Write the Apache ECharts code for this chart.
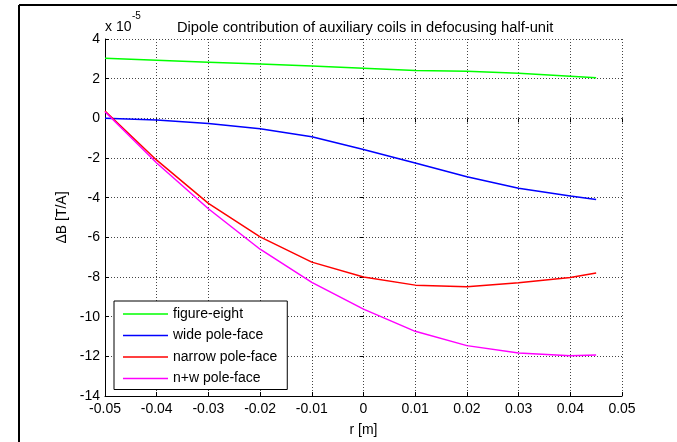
<!DOCTYPE html>
<html>
<head>
<meta charset="utf-8">
<script src="https://cdn.jsdelivr.net/npm/echarts@6/dist/echarts.min.js"></script>
<style>
html,body{margin:0;padding:0;background:#fff;}
#chart{width:677px;height:442px;}
</style>
</head>
<body>
<div id="chart"></div>
<script>
// ---- data (values in units of 1e-5 T/A) ----
const rValues = [-0.05, -0.04, -0.03, -0.02, -0.01, 0, 0.01, 0.02, 0.03, 0.04, 0.045];
const figureEight = [3.03, 2.93, 2.83, 2.74, 2.64, 2.53, 2.41, 2.37, 2.27, 2.12, 2.05];
const widePoleFace = [0.0, -0.08, -0.26, -0.53, -0.93, -1.57, -2.25, -2.95, -3.52, -3.92, -4.09];
const narrowPoleFace = [0.37, -2.11, -4.29, -5.98, -7.25, -8.0, -8.41, -8.49, -8.29, -8.03, -7.8];
const nwPoleFace = [0.33, -2.25, -4.56, -6.6, -8.27, -9.62, -10.74, -11.46, -11.83, -11.97, -11.93];
const seriesNames = ['figure-eight', 'wide pole-face', 'narrow pole-face', 'n+w pole-face'];
const seriesColors = ['#00ff00', '#0000ff', '#ff0000', '#ff00ff'];
const xTicks = [-0.05, -0.04, -0.03, -0.02, -0.01, 0, 0.01, 0.02, 0.03, 0.04, 0.05];
const yTicks = [4, 2, 0, -2, -4, -6, -8, -10, -12, -14];
const titleText = 'Dipole contribution of auxiliary coils in defocusing half-unit';
const xName = 'r [m]';
const yName = '\u0394B [T/A]';

const allValues = [figureEight, widePoleFace, narrowPoleFace, nwPoleFace];
const FONT = 'Liberation Sans, Arial, sans-serif';

const chart = echarts.init(document.getElementById('chart'), null, {renderer: 'canvas'});

const gridLine = {show: true, lineStyle: {color: '#444', type: [1, 2], width: 1}};

function fmtX(v) {
  const r = Math.round(v * 100) / 100;
  if (r === 0) return '0';
  return r.toFixed(2);
}

const option = {
  backgroundColor: '#fff',
  animation: false,
  title: {
    text: titleText,
    left: 172,
    top: 15,
    textStyle: {fontFamily: FONT, fontSize: 14.7, fontWeight: 'normal', color: '#000'}
  },
  grid: {left: 105, right: 55, top: 39, bottom: 45, containLabel: false},
  legend: {
    orient: 'vertical',
    left: 114,
    top: 301,
    data: seriesNames,
    icon: 'rect',
    itemWidth: 45,
    itemHeight: 1.5,
    itemGap: 5.5,
    padding: [5, 10, 3, 9],
    backgroundColor: '#fff',
    borderColor: '#000',
    borderWidth: 1,
    textStyle: {fontFamily: FONT, fontSize: 14, color: '#000', lineHeight: 16}
  },
  xAxis: [{
    type: 'value',
    min: -0.05, max: 0.05, interval: 0.01,
    name: xName,
    nameLocation: 'middle',
    nameGap: 27,
    nameTextStyle: {fontFamily: FONT, fontSize: 14, color: '#000'},
    axisLine: {show: true, onZero: false, lineStyle: {color: '#000', width: 1}},
    axisTick: {show: true, inside: true, length: 4, lineStyle: {color: '#000'}},
    axisLabel: {fontFamily: FONT, fontSize: 14, color: '#000', margin: 6,
      formatter: v => fmtX(v)},
    splitLine: gridLine
  }, {
    type: 'value', position: 'top',
    min: -0.05, max: 0.05, interval: 0.01,
    axisLine: {show: false},
    axisTick: {show: true, inside: true, length: 4, lineStyle: {color: '#000'}},
    axisLabel: {show: false},
    splitLine: {show: false}
  }],
  yAxis: [{
    type: 'value',
    min: -14, max: 4, interval: 2,
    name: yName,
    nameLocation: 'middle',
    nameRotate: 90,
    nameGap: 29,
    nameTextStyle: {fontFamily: FONT, fontSize: 14, color: '#000'},
    axisLine: {show: true, onZero: false, lineStyle: {color: '#000', width: 1}},
    axisTick: {show: true, inside: true, length: 4, lineStyle: {color: '#000'}},
    axisLabel: {fontFamily: FONT, fontSize: 14, color: '#000', margin: 5},
    splitLine: gridLine
  }, {
    type: 'value', position: 'right',
    min: -14, max: 4, interval: 2,
    axisLine: {show: false},
    axisTick: {show: true, inside: true, length: 4, lineStyle: {color: '#000'}},
    axisLabel: {show: false},
    splitLine: {show: false}
  }],
  series: seriesNames.map((name, i) => ({
    name: name,
    type: 'line',
    xAxisIndex: 0,
    yAxisIndex: 0,
    data: rValues.map((r, j) => [r, allValues[i][j]]),
    symbol: 'none',
    showSymbol: false,
    smooth: false,
    color: seriesColors[i],
    lineStyle: {color: seriesColors[i], width: 1.5},
    itemStyle: {color: seriesColors[i]}
  })),
  graphic: [
    {type: 'line', shape: {x1: 19, y1: 5, x2: 677, y2: 5}, style: {stroke: '#000', lineWidth: 2}, silent: true},
    {type: 'line', shape: {x1: 19, y1: 5, x2: 19, y2: 442}, style: {stroke: '#000', lineWidth: 2}, silent: true},
    {type: 'text', left: 105, top: 20, style: {text: 'x 10', font: '14px ' + FONT, fill: '#000'}},
    {type: 'text', left: 132, top: 11, style: {text: '-5', font: '10px ' + FONT, fill: '#000'}}
  ]
};

chart.setOption(option);
</script>
</body>
</html>
